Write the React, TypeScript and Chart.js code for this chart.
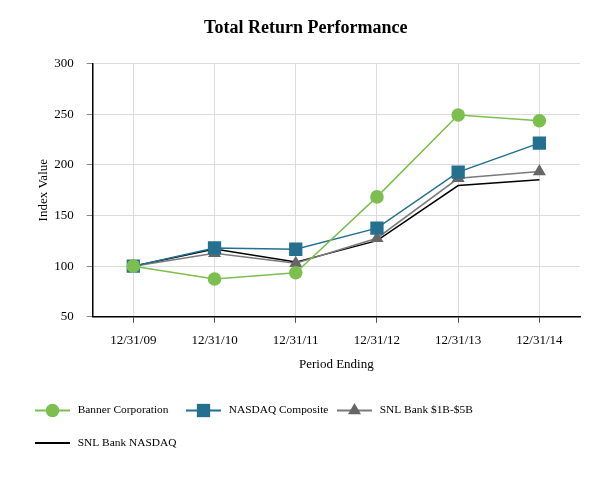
import React, { useEffect, useRef } from "react";
import { Chart, registerables } from "chart.js";

Chart.register(...registerables);

const categories = ["12/31/09", "12/31/10", "12/31/11", "12/31/12", "12/31/13", "12/31/14"];
const seriesNames = ["Banner Corporation", "NASDAQ Composite", "SNL Bank $1B-$5B", "SNL Bank NASDAQ"];
const bannerValues = [100, 87.3, 93.5, 168.4, 249.2, 243.6];
const nasdaqValues = [100, 118, 116.7, 137.5, 192.9, 221.5];
const snl1to5Values = [100, 112.7, 102.8, 127.6, 186.7, 193.5];
const snlNasdaqValues = [100, 117, 104, 125.2, 179.6, 185.2];
const yTicks = [50, 100, 150, 200, 250, 300];

const FONT = "'Liberation Serif', 'Times New Roman', serif";

function drawMarker(ctx: CanvasRenderingContext2D, style: string, x: number, y: number, r: number, color: string) {
  if (!style || r <= 0) return;
  ctx.save();
  ctx.fillStyle = color;
  ctx.beginPath();
  if (style === "circle") {
    ctx.arc(x, y, r, 0, Math.PI * 2);
  } else if (style === "rect") {
    const s = r * Math.SQRT1_2;
    ctx.rect(x - s, y - s, 2 * s, 2 * s);
  } else if (style === "triangle") {
    ctx.moveTo(x, y - r);
    ctx.lineTo(x + r * Math.sin(Math.PI / 3), y + r * 0.5);
    ctx.lineTo(x - r * Math.sin(Math.PI / 3), y + r * 0.5);
    ctx.closePath();
  }
  ctx.fill();
  ctx.restore();
}

const gridLegend = {
  id: "gridLegend",
  afterDraw(chart: any, _args: any, opts: any) {
    const ctx: CanvasRenderingContext2D = chart.ctx;
    const { startX, startY, colWidth, rowHeight, lineLen, textGap, perRow } = opts;
    chart.data.datasets.forEach((ds: any, i: number) => {
      const col = i % perRow;
      const row = Math.floor(i / perRow);
      const x0 = startX + col * colWidth;
      const y = startY + row * rowHeight;
      ctx.save();
      ctx.strokeStyle = ds.borderColor;
      ctx.lineWidth = 2;
      ctx.beginPath();
      ctx.moveTo(x0, y);
      ctx.lineTo(x0 + lineLen, y);
      ctx.stroke();
      ctx.restore();
      drawMarker(ctx, ds.pointStyle, x0 + lineLen / 2, y, ds.pointRadius, ds.pointBackgroundColor);
      ctx.save();
      ctx.fillStyle = "#000";
      ctx.font = `11.4px ${FONT}`;
      ctx.textBaseline = "middle";
      ctx.textAlign = "left";
      ctx.fillText(ds.label, x0 + textGap, y);
      ctx.restore();
    });
  },
};

export default function App() {
  const ref = useRef<HTMLCanvasElement>(null);
  useEffect(() => {
    if (!ref.current) return;
    Chart.defaults.font.family = FONT;
    Chart.defaults.color = "#000";
    const mk = (label: string, data: number[], color: string, markerColor: string, style: any, r: number) => ({
      label,
      data,
      borderColor: color,
      backgroundColor: markerColor,
      pointBackgroundColor: markerColor,
      pointBorderColor: markerColor,
      pointBorderWidth: 0,
      pointStyle: style,
      pointRadius: r,
      pointHoverRadius: r,
      borderWidth: 1.5,
      tension: 0,
      fill: false,
    });
    const chart = new Chart(ref.current, {
      type: "line",
      data: {
        labels: categories,
        datasets: [
          mk(seriesNames[0], bannerValues, "#7dbf4e", "#7dbf4e", "circle", 6.8),
          mk(seriesNames[1], nasdaqValues, "#23708f", "#23708f", "rect", 9.4),
          mk(seriesNames[2], snl1to5Values, "#7a7a7a", "#666666", "triangle", 7.5),
          mk(seriesNames[3], snlNasdaqValues, "#000000", "#000000", false, 0),
        ],
      },
      plugins: [gridLegend],
      options: {
        animation: false,
        responsive: true,
        maintainAspectRatio: false,
        layout: { padding: { left: 31.5, right: 33, top: 8, bottom: 104 } },
        plugins: {
          legend: { display: false },
          tooltip: { enabled: false },
          title: {
            display: true,
            text: "Total Return Performance",
            color: "#000",
            font: { size: 18, weight: "bold", family: FONT },
            padding: { top: 10, bottom: 24 },
          },
          gridLegend: {
            startX: 35,
            startY: 410.5,
            colWidth: 151,
            rowHeight: 32.6,
            lineLen: 35,
            textGap: 42.7,
            perRow: 3,
          },
        } as any,
        scales: {
          x: {
            offset: true,
            afterFit: (scale: any) => {
              scale.height = 59.2;
            },
            grid: { offset: false, color: "#dcdcdc", tickColor: "#555", tickLength: 6, lineWidth: 1 },
            border: { color: "#000", width: 1.5 },
            ticks: { color: "#000", font: { size: 13 }, padding: 10, maxRotation: 0 },
            title: { display: true, text: "Period Ending", color: "#000", font: { size: 13 }, padding: { top: 8, bottom: 4 } },
          },
          y: {
            min: 50,
            max: 300,
            afterBuildTicks: (scale: any) => {
              scale.ticks = yTicks.map((v) => ({ value: v }));
            },
            afterFit: (scale: any) => {
              scale.width = 61.2;
            },
            grid: { color: "#dcdcdc", tickColor: "#888", tickLength: 6, lineWidth: 1 },
            border: { color: "#000", width: 1.5 },
            ticks: { color: "#000", font: { size: 13 }, padding: 13 },
            title: { display: true, text: "Index Value", color: "#000", font: { size: 13 }, padding: { top: 4, bottom: 4 } },
          },
        },
      },
    });
    return () => chart.destroy();
  }, []);
  return (
    <div style={{ position: "absolute", left: 0, top: 0, width: 613, height: 480 }}>
      <canvas ref={ref} />
    </div>
  );
}
